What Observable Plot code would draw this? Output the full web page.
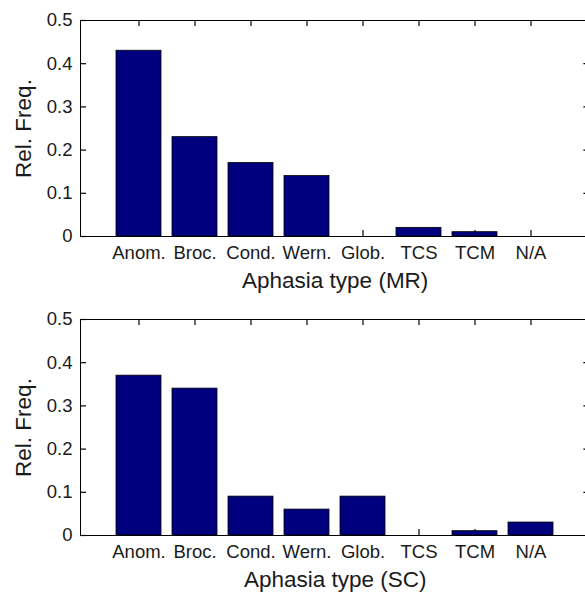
<!DOCTYPE html>
<html>
<head>
<meta charset="utf-8">
<script src="https://cdn.jsdelivr.net/npm/d3@7"></script>
<script src="https://cdn.jsdelivr.net/npm/@observablehq/plot@0.6"></script>
<style>
  html, body { margin: 0; padding: 0; background: #fff; overflow: hidden; }
  #chart { width: 590px; }
  #chart svg { display: block; }
</style>
</head>
<body>
<div id="chart"></div>
<script>
// Aphasia type categories (shared by both panels)
const categories = ["Anom.", "Broc.", "Cond.", "Wern.", "Glob.", "TCS", "TCM", "N/A"];

// Relative frequency of each aphasia type
const valuesMR = [0.43, 0.23, 0.17, 0.14, 0.00, 0.02, 0.01, 0.00];
const valuesSC = [0.37, 0.34, 0.09, 0.06, 0.09, 0.00, 0.01, 0.03];

// Y axis ticks and their labels
const yTicks = [0, 0.1, 0.2, 0.3, 0.4, 0.5];
const yTickLabels = ["0", "0.1", "0.2", "0.3", "0.4", "0.5"];

const yLabel = "Rel. Freq.";
const xLabelMR = "Aphasia type (MR)";
const xLabelSC = "Aphasia type (SC)";

const barColor = "#00007f";
const textColor = "#1a1a1a";
const font = "'Liberation Sans', Arial, sans-serif";
const tickFont = 18.5;
const labelFont = 22.5;
const tickLen = 6;

const width = 590;
const marginLeft = 80;
const marginRight = 0.6;

function panel(values, xLabel, {height, marginTop, marginBottom}) {
  const data = categories.map((c, i) => ({category: c, value: values[i]}));
  const yFmt = (d) => yTickLabels[yTicks.indexOf(d)] ?? String(d);
  const frameW = width - marginLeft - marginRight;
  const frameH = height - marginTop - marginBottom;
  return Plot.plot({
    width,
    height,
    marginLeft,
    marginRight,
    marginTop,
    marginBottom,
    style: {fontFamily: font, fontSize: tickFont + "px", background: "#fff"},
    x: {type: "band", domain: categories, paddingInner: 0.2, paddingOuter: 0.6, axis: null},
    y: {domain: [0, 0.5], axis: null},
    marks: [
      // short tick marks pointing into the plot area on all four sides
      Plot.tickX(categories, {x: (d) => d, insetTop: frameH - tickLen, stroke: "#000", strokeWidth: 1.2}),
      Plot.tickX(categories, {x: (d) => d, insetBottom: frameH - tickLen, stroke: "#000", strokeWidth: 1.2}),
      Plot.tickY(yTicks, {y: (d) => d, insetRight: frameW - tickLen, stroke: "#000", strokeWidth: 1.2}),
      Plot.tickY(yTicks, {y: (d) => d, insetLeft: frameW - tickLen, stroke: "#000", strokeWidth: 1.2}),
      // bars
      Plot.barY(data, {x: "category", y: "value", fill: barColor, stroke: "#000", strokeWidth: 0.8}),
      Plot.frame({stroke: "#000", strokeWidth: 1}),
      // tick labels
      Plot.axisX({anchor: "bottom", tickSize: 0, tickPadding: 9, fontSize: tickFont, fill: textColor, label: null}),
      Plot.axisY(yTicks, {anchor: "left", tickSize: 0, tickPadding: 8, tickFormat: yFmt, fontSize: tickFont, fill: textColor, label: null}),
      // axis titles
      Plot.text([xLabel], {frameAnchor: "bottom", dy: 44, fontSize: labelFont, fill: textColor, textAnchor: "middle", lineAnchor: "middle"}),
      Plot.text([yLabel], {frameAnchor: "left", dx: -57, rotate: -90, fontSize: labelFont, fill: textColor, textAnchor: "middle", lineAnchor: "middle"})
    ]
  });
}

const chart = document.getElementById("chart");
chart.append(panel(valuesMR, xLabelMR, {height: 298, marginTop: 20, marginBottom: 62}));
chart.append(panel(valuesSC, xLabelSC, {height: 297, marginTop: 21, marginBottom: 60}));
</script>
</body>
</html>
